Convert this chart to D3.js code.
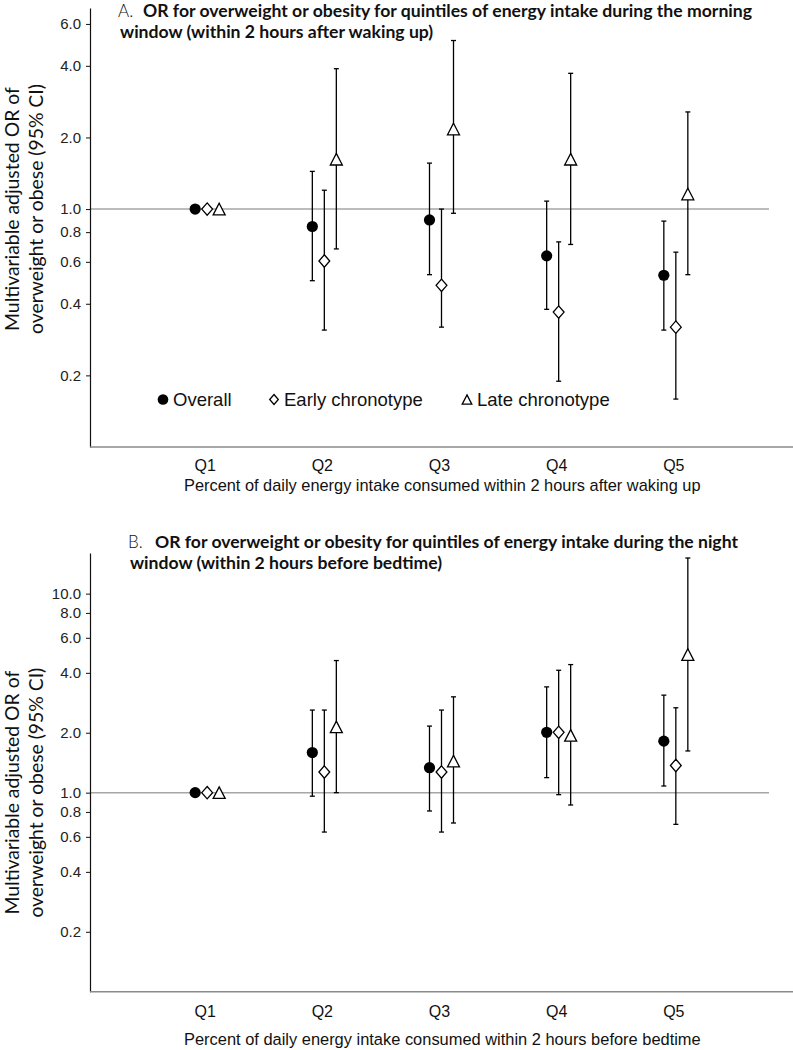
<!DOCTYPE html>
<html><head><meta charset="utf-8">
<script src="https://cdn.jsdelivr.net/npm/d3@7"></script>
<style>html,body{margin:0;padding:0;background:#fff;}svg{display:block;}</style>
</head><body>
<svg id="c" width="793" height="1050"></svg>
<script>
// ---------- DATA ----------
const categories = ["Q1", "Q2", "Q3", "Q4", "Q5"];
const seriesNames = ["Overall", "Early chronotype", "Late chronotype"];

// Panel A: morning window
const overallA    = [1.0, 0.845, 0.90, 0.636, 0.527];
const overallA_lo = [null, 0.50, 0.53, 0.379, 0.31];
const overallA_hi = [null, 1.44, 1.56, 1.08, 0.89];
const earlyA      = [1.0, 0.605, 0.478, 0.369, 0.319];
const earlyA_lo   = [null, 0.31, 0.319, 0.189, 0.159];
const earlyA_hi   = [null, 1.20, 1.00, 0.728, 0.659];
const lateA       = [1.0, 1.62, 2.17, 1.62, 1.157];
const lateA_lo    = [null, 0.68, 0.96, 0.71, 0.53];
const lateA_hi    = [null, 3.89, 5.11, 3.72, 2.56];

// Panel B: night window
const overallB    = [1.0, 1.59, 1.335, 2.01, 1.815];
const overallB_lo = [null, 0.96, 0.809, 1.19, 1.08];
const overallB_hi = [null, 2.60, 2.16, 3.40, 3.09];
const earlyB      = [1.0, 1.27, 1.27, 2.01, 1.37];
const earlyB_lo   = [null, 0.634, 0.634, 0.977, 0.693];
const earlyB_hi   = [null, 2.60, 2.60, 4.12, 2.67];
const lateB       = [1.0, 2.14, 1.44, 1.94, 4.94];
const lateB_lo    = [null, 1.00, 0.704, 0.867, 1.62];
const lateB_hi    = [null, 4.61, 3.03, 4.40, 15.1];

const ticksA = [0.2, 0.4, 0.6, 0.8, 1.0, 2.0, 4.0, 6.0];
const ticksB = [0.2, 0.4, 0.6, 0.8, 1.0, 2.0, 4.0, 6.0, 8.0, 10.0];
const domainA = [0.1, 7];
const domainB = [0.1, 16];

const yLabel1 = "Multivariable adjusted OR of";
const yLabel2 = "overweight or obese (95% CI)";
const titleA1 = "OR for overweight or obesity for quintiles of energy intake during the morning";
const titleA2 = "window (within 2 hours after waking up)";
const titleB1 = "OR for overweight or obesity for quintiles of energy intake during the night";
const titleB2 = "window (within 2 hours before bedtime)";
const xTitleA = "Percent of daily energy intake consumed within 2 hours after waking up";
const xTitleB = "Percent of daily energy intake consumed within 2 hours before bedtime";

// ---------- DRAW ----------
const svg = d3.select("#c");
const ARIAL = "'Liberation Sans', Arial, sans-serif";
const CAL = "Lato, 'Open Sans', sans-serif";

function fit(sel, w) {
  const n = sel.node();
  const cur = parseFloat(sel.attr("font-size"));
  const len = n.getComputedTextLength();
  if (len > 0) sel.attr("font-size", (cur * w / len).toFixed(2));
  return sel;
}

function marker(g, type, x, y, s) {
  if (type === 0) {
    g.append("circle").attr("cx", x).attr("cy", y).attr("r", 5.6 * s).attr("fill", "#000");
  } else if (type === 1) {
    const hw = 5.4 * s, hh = 6.2 * s;
    g.append("path").attr("d", `M${x},${y - hh}L${x + hw},${y}L${x},${y + hh}L${x - hw},${y}Z`)
      .attr("fill", "#fff").attr("stroke", "#000").attr("stroke-width", 1.3);
  } else {
    const hw = 6 * s, hh = 5.8 * s;
    g.append("path").attr("d", `M${x},${y - hh}L${x + hw},${y + hh}L${x - hw},${y + hh}Z`)
      .attr("fill", "#fff").attr("stroke", "#000").attr("stroke-width", 1.3).attr("stroke-linejoin", "miter");
  }
}

function panel(opts) {
  const g = svg.append("g");
  const x = d3.scalePoint().domain(categories).range([90, 793]).padding(1);
  const y = d3.scaleLog().domain(opts.domain).range([opts.bottom, opts.top]);

  // reference line at OR = 1
  g.append("line").attr("x1", 90).attr("x2", 769).attr("y1", y(1)).attr("y2", y(1))
    .attr("stroke", "#a6a6a6").attr("stroke-width", 1.5);

  // y axis
  const ya = g.append("g").attr("transform", "translate(90,0)")
    .call(d3.axisLeft(y).tickValues(opts.ticks).tickFormat(d3.format(".1f")).tickSize(4).tickPadding(5).tickSizeOuter(0));
  ya.select(".domain").attr("stroke", "#111").attr("stroke-width", 1.2);
  ya.selectAll(".tick line").attr("stroke", "#111");
  ya.selectAll(".tick text").attr("font-family", ARIAL).attr("font-size", 15).attr("fill", "#222");

  // x axis line
  g.append("line").attr("x1", 90).attr("x2", 793).attr("y1", opts.bottom).attr("y2", opts.bottom)
    .attr("stroke", "#8a8a8a").attr("stroke-width", 1.6);
  // category labels
  g.selectAll("text.q").data(categories).enter().append("text").attr("class", "q")
    .attr("x", d => x(d) - 2).attr("y", opts.qy).attr("text-anchor", "middle")
    .attr("font-family", ARIAL).attr("font-size", 16).attr("fill", "#111").text(d => d);
  // x title
  const xt = g.append("text").attr("x", 184).attr("y", opts.xty).attr("font-family", ARIAL)
    .attr("font-size", 15).attr("fill", "#111").text(opts.xTitle);
  fit(xt, 517);

  // y title
  const yc = y(1);
  const yl1 = g.append("text").attr("transform", `translate(19,${yc}) rotate(-90)`).attr("text-anchor", "middle")
    .attr("font-family", CAL).attr("font-size", 18).attr("fill", "#111").text(yLabel1);
  fit(yl1, 244);
  const yl2 = g.append("text").attr("transform", `translate(43,${yc}) rotate(-90)`).attr("text-anchor", "middle")
    .attr("font-family", CAL).attr("font-size", 18).attr("fill", "#111").text(yLabel2);
  fit(yl2, 250);

  // title
  g.append("text").attr("x", opts.tx).attr("y", opts.ty1).attr("font-family", CAL).attr("font-weight", 300)
    .attr("font-size", 17).attr("fill", "#111").text(opts.letter);
  const t1 = g.append("text").attr("x", opts.tx2).attr("y", opts.ty1).attr("font-family", CAL).attr("font-weight", 700)
    .attr("font-size", 15).attr("fill", "#111").text(opts.t1);
  fit(t1, opts.t1w);
  g.append("text").attr("x", opts.tx + 2).attr("y", opts.ty1 + 21).attr("font-family", CAL).attr("font-weight", 700)
    .attr("font-size", t1.attr("font-size")).attr("fill", "#111").text(opts.t2);

  // error bars + markers
  const offs = [-12, 0, 12];
  opts.series.forEach((s, si) => {
    categories.forEach((c, i) => {
      const cx = x(c) + offs[si];
      if (s.lo[i] != null) {
        g.append("line").attr("x1", cx).attr("x2", cx).attr("y1", y(s.lo[i])).attr("y2", y(s.hi[i]))
          .attr("stroke", "#000").attr("stroke-width", 1.3);
        [s.lo[i], s.hi[i]].forEach(v => {
          g.append("line").attr("x1", cx - 2.5).attr("x2", cx + 2.5).attr("y1", y(v)).attr("y2", y(v))
            .attr("stroke", "#000").attr("stroke-width", 1.3);
        });
      }
    });
  });
  opts.series.forEach((s, si) => {
    categories.forEach((c, i) => {
      marker(g, si, x(c) + offs[si], y(s.v[i]), 1);
    });
  });
  return g;
}

const gA = panel({
  domain: domainA, top: 8, bottom: 447, ticks: ticksA, qy: 471, xty: 491, xTitle: xTitleA,
  letter: "A.", tx: 118, tx2: 143, ty1: 17, t1: titleA1, t1w: 609, t2: titleA2,
  series: [
    {v: overallA, lo: overallA_lo, hi: overallA_hi},
    {v: earlyA, lo: earlyA_lo, hi: earlyA_hi},
    {v: lateA, lo: lateA_lo, hi: lateA_hi}
  ]
});

const gB = panel({
  domain: domainB, top: 553, bottom: 991.7, ticks: ticksB, qy: 1017, xty: 1045, xTitle: xTitleB,
  letter: "B.", tx: 128, tx2: 155, ty1: 548, t1: titleB1, t1w: 583, t2: titleB2,
  series: [
    {v: overallB, lo: overallB_lo, hi: overallB_hi},
    {v: earlyB, lo: earlyB_lo, hi: earlyB_hi},
    {v: lateB, lo: lateB_lo, hi: lateB_hi}
  ]
});

// legend (panel A)
const leg = svg.append("g");
const legX = [163, 274, 467];
seriesNames.forEach((n, i) => {
  marker(leg, i, legX[i], 399.5, i === 0 ? 0.95 : 0.8);
  leg.append("text").attr("x", legX[i] + 10).attr("y", 405.5).attr("font-family", ARIAL)
    .attr("font-size", 18.5).attr("fill", "#111").text(n);
});
</script>
</body></html>
